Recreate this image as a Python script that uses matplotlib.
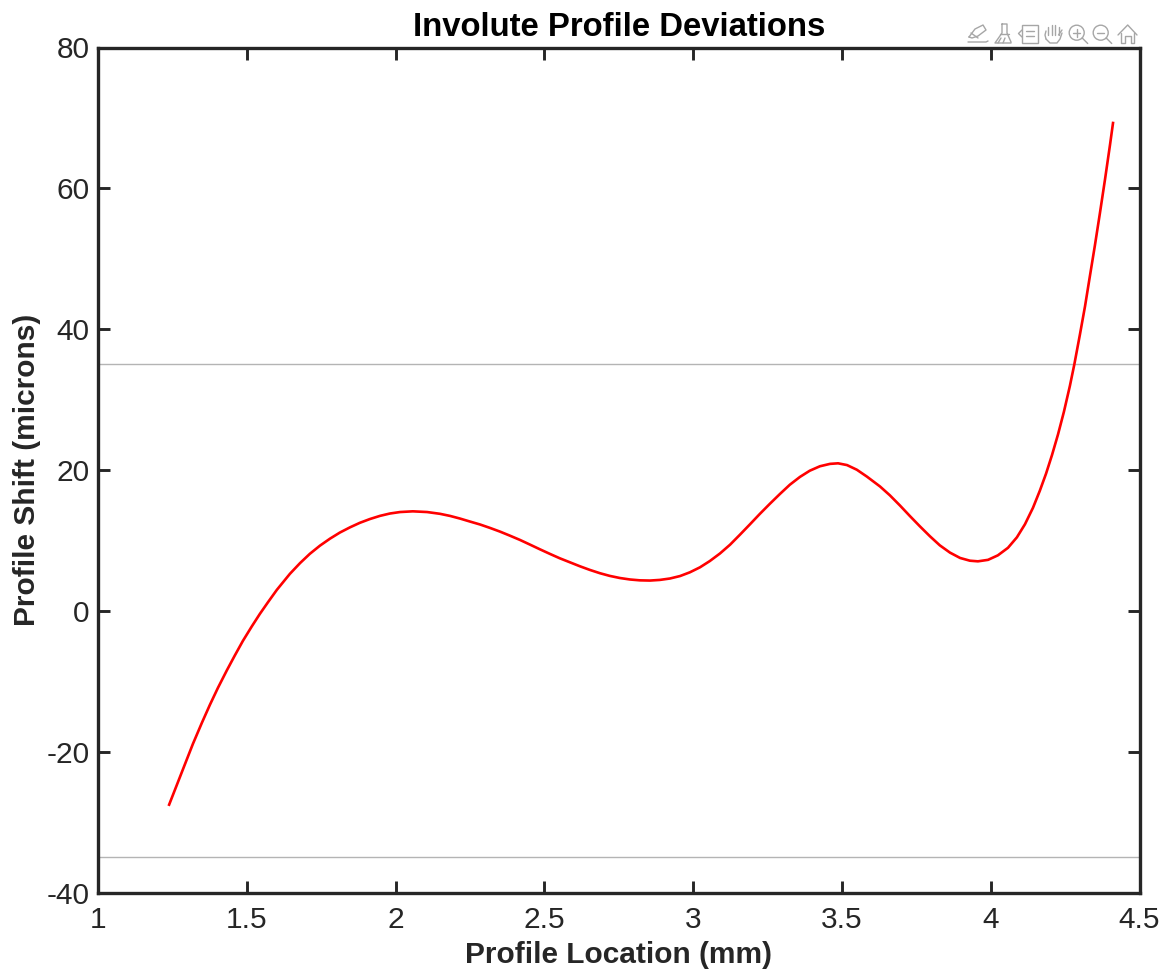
import matplotlib
matplotlib.use('Agg')
import matplotlib.pyplot as plt
from matplotlib.patches import Circle, Rectangle

plt.rcParams['font.family'] = ['Liberation Sans', 'DejaVu Sans']

location = [1.239, 1.265, 1.292, 1.319, 1.349, 1.376, 1.403, 1.433, 1.460, 1.487,
            1.517, 1.544, 1.571, 1.601, 1.645, 1.679, 1.712, 1.746, 1.780, 1.813,
            1.847, 1.880, 1.914, 1.948, 1.981, 2.015, 2.058, 2.106, 2.149, 2.183,
            2.216, 2.250, 2.284, 2.317, 2.351, 2.384, 2.418, 2.452, 2.485, 2.519,
            2.552, 2.586, 2.620, 2.653, 2.687, 2.720, 2.754, 2.788, 2.821, 2.855,
            2.888, 2.922, 2.956, 2.989, 3.023, 3.056, 3.090, 3.124, 3.157, 3.191,
            3.224, 3.258, 3.292, 3.325, 3.359, 3.392, 3.426, 3.460, 3.487, 3.517,
            3.550, 3.584, 3.628, 3.661, 3.695, 3.728, 3.762, 3.796, 3.829, 3.863,
            3.897, 3.930, 3.957, 3.991, 4.024, 4.058, 4.088, 4.115, 4.142, 4.165,
            4.186, 4.206, 4.226, 4.246, 4.266, 4.281, 4.300, 4.317, 4.333, 4.350,
            4.367, 4.384, 4.401, 4.411]
shift = [-27.53, -24.72, -21.80, -18.89, -15.91, -13.35, -10.94, -8.45, -6.32, -4.26,
         -2.20, -0.43, 1.21, 2.98, 5.26, 6.78, 8.10, 9.26, 10.26, 11.12,
         11.86, 12.50, 13.04, 13.49, 13.82, 14.03, 14.13, 14.03, 13.78, 13.48,
         13.11, 12.68, 12.26, 11.78, 11.25, 10.68, 10.07, 9.40, 8.74, 8.08,
         7.46, 6.89, 6.32, 5.81, 5.34, 4.96, 4.66, 4.45, 4.33, 4.30,
         4.39, 4.59, 4.94, 5.47, 6.18, 7.07, 8.14, 9.39, 10.80, 12.29,
         13.76, 15.21, 16.61, 17.91, 19.02, 19.90, 20.53, 20.87, 20.95, 20.70,
         20.04, 19.06, 17.66, 16.41, 14.96, 13.48, 12.00, 10.58, 9.30, 8.27,
         7.51, 7.12, 7.03, 7.24, 7.88, 8.95, 10.44, 12.29, 14.63, 17.05,
         19.49, 22.13, 25.03, 28.27, 31.93, 35.00, 39.29, 43.27, 47.46, 51.86,
         56.48, 61.24, 66.21, 69.28]
limits = [35, -35]
x_ticks = [1, 1.5, 2, 2.5, 3, 3.5, 4, 4.5]
x_labels = ['1', '1.5', '2', '2.5', '3', '3.5', '4', '4.5']
y_ticks = [-40, -20, 0, 20, 40, 60, 80]
y_labels = ['-40', '-20', '0', '20', '40', '60', '80']

W, H = 1165, 976
dark = '#262626'
fig = plt.figure(figsize=(W/100, H/100), dpi=100)
ax = fig.add_axes([98/W, 1-892.5/H, (1139.5-98)/W, (892.5-47.5)/H])

for y in limits:
    ax.axhline(y, color='#b4b4b4', lw=1.0)
ax.plot(location, shift, color='#ff0000', lw=1.9, solid_joinstyle='round')

ax.set_xlim(1, 4.5)
ax.set_ylim(-40, 80)
ax.set_xticks(x_ticks, x_labels)
ax.set_yticks(y_ticks, y_labels)
ax.tick_params(direction='in', top=True, right=True, length=8.5, width=2.1,
               color=dark, labelcolor=dark, labelsize=21.5, pad=6)
ax.tick_params(axis='x', pad=10)
for s in ax.spines.values():
    s.set_linewidth(2.4)
    s.set_color(dark)

ax.set_xlabel('Profile Location (mm)', fontsize=21.5, fontweight='bold', color=dark, labelpad=5)
ax.set_ylabel('Profile Shift (microns)', fontsize=21.5, fontweight='bold', color=dark, labelpad=4)
ax.set_title('Involute Profile Deviations', fontsize=23.7, fontweight='bold', color='black', pad=8)

# toolbar icons, pixel coordinates
tb = fig.add_axes([0, 0, 1, 1], zorder=5)
tb.set_xlim(0, W)
tb.set_ylim(H, 0)
tb.axis('off')
tb.patch.set_alpha(0)
ic = dict(color='#a6a6a6', lw=1.0, solid_capstyle='round')


def poly(xs, ys):
    tb.plot(xs, ys, **ic)


# pencil
poly([969, 975, 983, 986, 978, 972, 969], [37, 29, 25, 30, 36, 38, 37])
poly([968, 980, 986, 988], [42, 42, 42, 41])
poly([971, 978], [33, 38])
# brush
poly([1002, 1007, 1007, 1011, 1011, 995, 1002, 1002], [24, 24, 33, 42, 43, 43, 33, 24])
poly([1000, 1009], [34, 34])
poly([998, 1001], [43, 38])
poly([1003, 1005], [43, 38])
# data tip
tb.add_patch(Rectangle((1022, 24.5), 15.5, 18, fill=False, ec='#a6a6a6', lw=1.0))
poly([1022, 1018.5, 1022], [30, 33.5, 37])
poly([1026, 1034], [30.5, 30.5])
poly([1026, 1034], [36, 36])
# hand
poly([1046, 1045, 1046], [31, 35, 39])
poly([1046, 1050, 1057, 1060, 1062], [39, 43, 43, 39, 33])
for hx, top in zip([1048, 1051.5, 1055, 1058.5], [27, 25, 25, 27]):
    poly([hx, hx], [top, 35])
poly([1058.5, 1062], [35, 30])
# zoom in / zoom out
for cx in [1076.7, 1100.7]:
    tb.add_patch(Circle((cx, 32.7), 7.5, fill=False, ec='#a6a6a6', lw=1.0))
    poly([cx+5.5, cx+11], [38, 43.5])
    poly([cx-3.5, cx+3.5], [32.7, 32.7])
poly([1076.7, 1076.7], [29, 36.5])
# home
poly([1118, 1127.7, 1137], [35, 25, 35])
poly([1121, 1121, 1125, 1125, 1130.5, 1130.5, 1134, 1134], [33, 43, 43, 36, 36, 43, 43, 33])

fig.savefig('out.png', dpi=100)
